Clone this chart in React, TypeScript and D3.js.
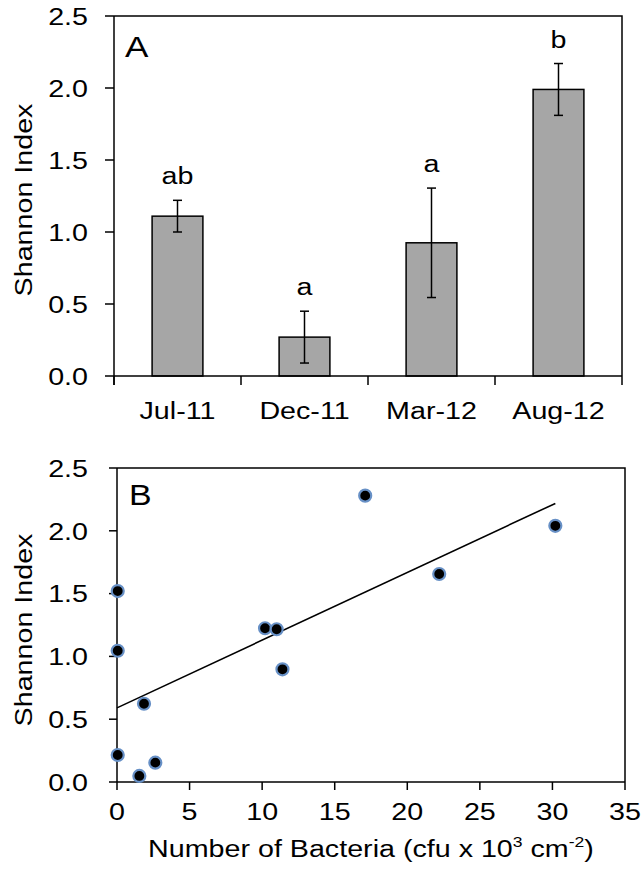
import React from "react";
import * as d3 from "d3";

// ---------- Data ----------
const categories = ["Jul-11", "Dec-11", "Mar-12", "Aug-12"];
const meanShannon = [1.11, 0.27, 0.925, 1.99];
const errShannon = [0.11, 0.18, 0.38, 0.18];
const sigLetters = ["ab", "a", "a", "b"];
const yTicksA = [0, 0.5, 1.0, 1.5, 2.0, 2.5];

const bacteriaCount = [0.05, 0.05, 0.05, 1.54, 2.64, 1.86, 10.2, 11.0, 11.4, 17.1, 22.2, 30.2];
const shannonB = [1.52, 1.045, 0.215, 0.048, 0.154, 0.623, 1.224, 1.216, 0.897, 2.28, 1.656, 2.04];
const xTicksB = [0, 5, 10, 15, 20, 25, 30, 35];
const yTicksB = [0, 0.5, 1.0, 1.5, 2.0, 2.5];

// ---------- Style ----------
const FONT = "'Liberation Sans', Arial, sans-serif";
const SX = 1.17;
const FS = 24.5;

function T({ x, y, anchor = "start", size = FS, rotate = 0, dy = "0", children }: any) {
  return (
    <g transform={`translate(${x},${y}) rotate(${rotate}) scale(${SX},1)`}>
      <text textAnchor={anchor} fontSize={size} fontFamily={FONT} dy={dy} fill="#000">
        {children}
      </text>
    </g>
  );
}

export default function App() {
  // Panel A
  const A = { l: 114, r: 622, t: 16, b: 376 };
  const xA = d3.scaleBand<string>().domain(categories).range([A.l, A.r]).paddingInner(0.6).paddingOuter(0.3);
  const yA = d3.scaleLinear().domain([0, 2.5]).range([A.b, A.t]);
  const stepA = (A.r - A.l) / categories.length;
  const boundaries = d3.range(categories.length + 1).map((i) => A.l + i * stepA);

  // Panel B
  const B = { l: 117, r: 625, t: 468, b: 782 };
  const xB = d3.scaleLinear().domain([0, 35]).range([B.l, B.r]);
  const yB = d3.scaleLinear().domain([0, 2.5]).range([B.b, B.t]);

  // Least squares regression
  const mx = d3.mean(bacteriaCount)!;
  const my = d3.mean(shannonB)!;
  let sxy = 0, sxx = 0;
  bacteriaCount.forEach((x, i) => {
    sxy += (x - mx) * (shannonB[i] - my);
    sxx += (x - mx) * (x - mx);
  });
  const slope = sxy / sxx;
  const intercept = my - slope * mx;
  const lineX = [0, d3.max(bacteriaCount)!];
  const linePath = d3.line<number>().x((d) => xB(d)).y((d) => yB(intercept + slope * d))(lineX)!;

  const capW = 4.5;

  return (
    <svg width={644} height={870} style={{ position: "absolute", left: 0, top: 0, background: "#fff" }}>
      <rect x={0} y={0} width={644} height={870} fill="#fff" />
      {/* ---------------- Panel A ---------------- */}
      {categories.map((c, i) => {
        const x0 = xA(c)!;
        const w = xA.bandwidth();
        const cx = x0 + w / 2;
        const top = yA(meanShannon[i] + errShannon[i]);
        const bot = yA(meanShannon[i] - errShannon[i]);
        return (
          <g key={c}>
            <rect x={x0} y={yA(meanShannon[i])} width={w} height={yA(0) - yA(meanShannon[i])} fill="#a6a6a6" stroke="#000" strokeWidth={1.5} />
            <line x1={cx} x2={cx} y1={top} y2={bot} stroke="#000" strokeWidth={1.5} />
            <line x1={cx - capW} x2={cx + capW} y1={top} y2={top} stroke="#000" strokeWidth={1.5} />
            <line x1={cx - capW} x2={cx + capW} y1={bot} y2={bot} stroke="#000" strokeWidth={1.5} />
            <T x={cx} y={top - 16} anchor="middle">{sigLetters[i]}</T>
            <T x={cx} y={419} anchor="middle">{c}</T>
          </g>
        );
      })}
      {/* frame */}
      <path d={`M${A.l},${A.t}H${A.r}V${A.b}`} fill="none" stroke="#000" strokeWidth={1.5} />
      <line x1={A.l} x2={A.l} y1={A.t} y2={A.b + 9} stroke="#000" strokeWidth={1.5} />
      <line x1={A.l} x2={A.r} y1={A.b} y2={A.b} stroke="#000" strokeWidth={1.5} />
      {boundaries.map((bx, i) => (
        <line key={i} x1={bx} x2={bx} y1={A.b} y2={A.b + 9} stroke="#000" strokeWidth={1.5} />
      ))}
      {yTicksA.map((t) => (
        <g key={t}>
          <line x1={A.l - 9} x2={A.l} y1={yA(t)} y2={yA(t)} stroke="#000" strokeWidth={1.5} />
          <T x={88} y={yA(t)} anchor="end" dy="0.36em">{t.toFixed(1)}</T>
        </g>
      ))}
      <T x={32} y={(A.t + A.b) / 2 + 4} anchor="middle" rotate={-90}>Shannon Index</T>
      <T x={125} y={57} size={30}>A</T>

      {/* ---------------- Panel B ---------------- */}
      <path d={`M${B.l},${B.t}H${B.r}V${B.b}`} fill="none" stroke="#000" strokeWidth={1.5} />
      <line x1={B.l} x2={B.l} y1={B.t} y2={B.b} stroke="#000" strokeWidth={1.5} />
      <line x1={B.l} x2={B.r} y1={B.b} y2={B.b} stroke="#000" strokeWidth={1.5} />
      {xTicksB.map((t) => (
        <g key={t}>
          <line x1={xB(t)} x2={xB(t)} y1={B.b} y2={B.b + 8} stroke="#000" strokeWidth={1.5} />
          <T x={xB(t)} y={820} anchor="middle">{String(t)}</T>
        </g>
      ))}
      {yTicksB.map((t) => (
        <g key={t}>
          <line x1={B.l - 8} x2={B.l} y1={yB(t)} y2={yB(t)} stroke="#000" strokeWidth={1.5} />
          <T x={88} y={yB(t)} anchor="end" dy="0.36em">{t.toFixed(1)}</T>
        </g>
      ))}
      <path d={linePath} fill="none" stroke="#000" strokeWidth={1.6} />
      {bacteriaCount.map((x, i) => (
        <circle key={i} cx={xB(x)} cy={yB(shannonB[i])} r={6} fill="#000" stroke="#6790c6" strokeWidth={2.2} />
      ))}
      <T x={32} y={(B.t + B.b) / 2 + 5} anchor="middle" rotate={-90}>Shannon Index</T>
      <T x={129} y={505} size={29}>B</T>
      <g transform={`translate(${(B.l + B.r) / 2},857) scale(${SX},1)`}>
        <text textAnchor="middle" fontSize={FS} fontFamily={FONT} fill="#000">
          Number of Bacteria (cfu x 10
          <tspan fontSize={15} dy={-10}>3</tspan>
          <tspan dy={10}> cm</tspan>
          <tspan fontSize={15} dy={-10}>-2</tspan>
          <tspan dy={10}>)</tspan>
        </text>
      </g>
    </svg>
  );
}
